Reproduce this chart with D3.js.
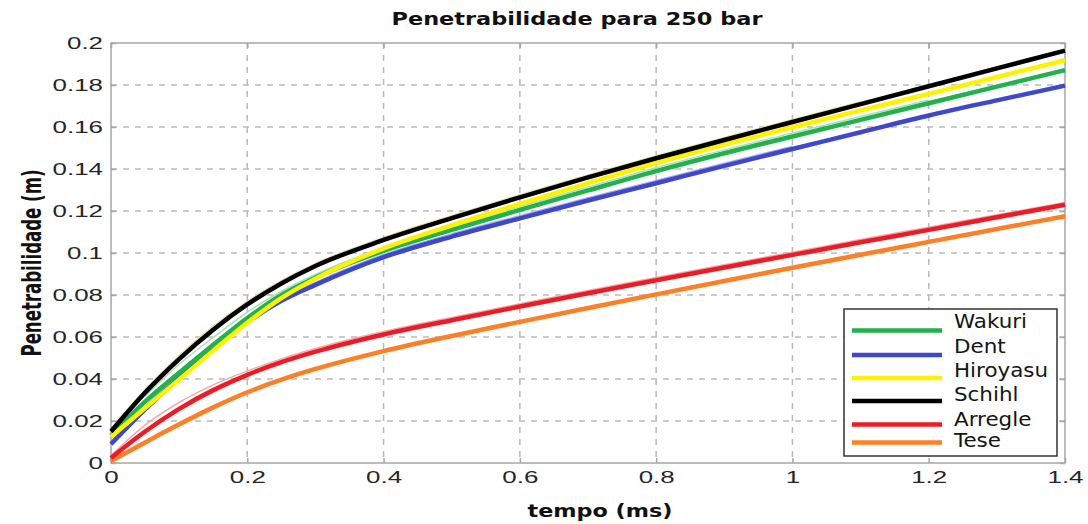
<!DOCTYPE html>
<html>
<head>
<meta charset="utf-8">
<script src="https://cdn.jsdelivr.net/npm/d3@7"></script>
<style>
  html, body { margin: 0; padding: 0; background: #fff; }
  svg { display: block; }
</style>
</head>
<body>
<svg id="chart" width="1088" height="524"></svg>
<script>
// Sampling instants (ms)
const tempo = [0, 0.05, 0.1, 0.15, 0.2, 0.25, 0.3, 0.4, 0.5, 0.6, 0.7, 0.8, 0.9, 1.0, 1.1, 1.2, 1.3, 1.4];

// Spray penetration (m) for each correlation
const wakuri   = [0.013, 0.0292, 0.0430, 0.0562, 0.0690, 0.0800, 0.0883, 0.1010, 0.1110, 0.1205, 0.1298, 0.1390, 0.1475, 0.1555, 0.1634, 0.1713, 0.1792, 0.1871];
const dent     = [0.009, 0.0255, 0.0405, 0.0545, 0.0670, 0.0772, 0.0848, 0.0980, 0.1078, 0.1165, 0.1250, 0.1332, 0.1415, 0.1495, 0.1575, 0.1655, 0.1727, 0.1797];
const hiroyasu = [0.0125, 0.0262, 0.0398, 0.0535, 0.0668, 0.0785, 0.0878, 0.1022, 0.1132, 0.1234, 0.1333, 0.1428, 0.1516, 0.1599, 0.1679, 0.1758, 0.1838, 0.1918];
const schihl   = [0.015, 0.0335, 0.0495, 0.0635, 0.0755, 0.0855, 0.0938, 0.1062, 0.1166, 0.1265, 0.1360, 0.1451, 0.1538, 0.1624, 0.1709, 0.1794, 0.1879, 0.1964];
const arregle  = [0.0024, 0.0150, 0.0258, 0.0347, 0.0420, 0.0480, 0.0530, 0.0612, 0.0680, 0.0745, 0.0808, 0.0870, 0.0931, 0.0991, 0.1051, 0.1110, 0.1170, 0.1230];
const tese     = [0.001, 0.0098, 0.0184, 0.0265, 0.0337, 0.0397, 0.0448, 0.0533, 0.0605, 0.0672, 0.0738, 0.0803, 0.0867, 0.0930, 0.0992, 0.1053, 0.1114, 0.1175];

// Thin companion traces that run alongside the model curves (null = not drawn)
const traceArregle  = [0.0035, 0.0180, 0.0288, 0.0372, 0.0438, 0.0496, 0.0545, 0.0626, 0.0693, 0.0758, 0.0821, 0.0883, 0.0944, 0.1004, 0.1064, 0.1123, 0.1182, 0.1240];
const traceWakuri   = [null, 0.0318, 0.0470, 0.0598, 0.0718, 0.0818, 0.0898, 0.1026, 0.1126, 0.1221, 0.1314, 0.1406, 0.1491, 0.1571, 0.1650, 0.1729, null, null];
const traceDent     = [null, 0.0270, 0.0430, 0.0572, 0.0690, 0.0785, 0.0860, 0.0993, 0.1091, 0.1178, 0.1263, 0.1345, 0.1428, 0.1508, null, null, null, null];
const traceHiroyasu = [null, 0.0350, 0.0512, 0.0652, 0.0770, 0.0868, 0.0950, 0.1074, 0.1178, 0.1277, 0.1372, 0.1463, 0.1550, 0.1636, 0.1720, null, null, null];

const seriesNames  = ["Wakuri", "Dent", "Hiroyasu", "Schihl", "Arregle", "Tese"];
const seriesValues = [wakuri, dent, hiroyasu, schihl, arregle, tese];
const seriesColors = ["#22b14c", "#3f48cc", "#fff200", "#000000", "#ed1c24", "#ff7f27"];
// painting order (first drawn ends up underneath)
const drawOrder = ["Dent", "Wakuri", "Hiroyasu", "Schihl", "Tese", "Arregle"];

const traceValues = [traceHiroyasu, traceWakuri, traceDent, traceArregle];
const traceColors = ["#e9e29a", "#a6e3b3", "#aab0f2", "#f6a8b0"];

const xTicks = [0, 0.2, 0.4, 0.6, 0.8, 1, 1.2, 1.4];
const yTicks = [0, 0.02, 0.04, 0.06, 0.08, 0.1, 0.12, 0.14, 0.16, 0.18, 0.2];

const titleText = "Penetrabilidade para 250 bar";
const xLabel = "tempo (ms)";
const yLabel = "Penetrabilidade (m)";

// ---- layout ----
const plot = { left: 111, right: 1065, top: 43, bottom: 463 };
const gridColor = "#b9b9b9";
const boxColor = "#a6a6a6";
const tickFont = "'Liberation Sans', Arial, sans-serif";
const labelFont = "'DejaVu Sans', Verdana, sans-serif";

const svg = d3.select("#chart");

const x = d3.scaleLinear().domain([0, 1.4]).range([plot.left, plot.right]);
const y = d3.scaleLinear().domain([0, 0.2]).range([plot.bottom, plot.top]);

// dashed grid
const grid = svg.append("g").attr("class", "grid");
grid.selectAll("line.gx")
  .data(xTicks.filter(d => d > 0 && d < 1.4))
  .join("line").attr("class", "gx")
  .attr("x1", d => x(d)).attr("x2", d => x(d))
  .attr("y1", plot.top).attr("y2", plot.bottom);
grid.selectAll("line.gy")
  .data(yTicks.filter(d => d > 0 && d < 0.2))
  .join("line").attr("class", "gy")
  .attr("x1", plot.left).attr("x2", plot.right)
  .attr("y1", d => y(d)).attr("y2", d => y(d));
grid.selectAll("line")
  .attr("stroke", gridColor)
  .attr("stroke-width", 1.5)
  .attr("stroke-dasharray", "6,6");

// axes (ticks pointing inward)
const axisLeft = d3.axisLeft(y).tickValues(yTicks).tickSize(-5).tickFormat(d3.format("~g"));
const axisBottom = d3.axisBottom(x).tickValues(xTicks).tickSize(-5).tickFormat(d3.format("~g"));
const axisRight = d3.axisRight(y).tickValues(yTicks).tickSize(-5).tickFormat("");
const axisTop = d3.axisTop(x).tickValues(xTicks).tickSize(-5).tickFormat("");

const gL = svg.append("g").attr("transform", `translate(${plot.left},0)`).call(axisLeft);
const gB = svg.append("g").attr("transform", `translate(0,${plot.bottom})`).call(axisBottom);
svg.append("g").attr("transform", `translate(${plot.right},0)`).call(axisRight);
svg.append("g").attr("transform", `translate(0,${plot.top})`).call(axisTop);

svg.selectAll(".domain").remove();
svg.selectAll(".tick line").attr("stroke", boxColor).attr("stroke-width", 1.5);

gL.selectAll(".tick text")
  .attr("x", 0).attr("dy", "0.36em")
  .attr("transform", "translate(-8,0) scale(1.62,1)")
  .attr("text-anchor", "end");
gB.selectAll(".tick text")
  .attr("y", 20).attr("dy", 0)
  .attr("transform", "scale(1.62,1)")
  .attr("text-anchor", "middle");
svg.selectAll(".tick text")
  .attr("font-family", tickFont)
  .attr("font-size", 16)
  .attr("fill", "#262626");

// plot box
svg.append("rect")
  .attr("x", plot.left).attr("y", plot.top)
  .attr("width", plot.right - plot.left).attr("height", plot.bottom - plot.top)
  .attr("fill", "none").attr("stroke", boxColor).attr("stroke-width", 1.5);

// curves
const line = d3.line()
  .defined(d => d != null)
  .x((d, i) => x(tempo[i]))
  .y(d => y(d))
  .curve(d3.curveMonotoneX);

const curves = svg.append("g").attr("class", "curves");

// faint companion traces, underneath the thick curves
traceValues.forEach((vals, i) => {
  curves.append("path")
    .datum(vals)
    .attr("d", line)
    .attr("fill", "none")
    .attr("stroke", traceColors[i])
    .attr("stroke-width", 1.5);
});

drawOrder.forEach(name => {
  const k = seriesNames.indexOf(name);
  curves.append("path")
    .datum(seriesValues[k])
    .attr("d", line)
    .attr("fill", "none")
    .attr("stroke", seriesColors[k])
    .attr("stroke-width", 4.5)
    .attr("stroke-linejoin", "round");
});

// legend
const legend = { x: 844, y: 309, w: 213, h: 147 };
const legendRows = [330.5, 355, 378, 401, 424.5, 442.5];
const legendBase = [328.5, 353.5, 377, 401, 426.5, 447];
const lg = svg.append("g").attr("class", "legend");
lg.append("rect")
  .attr("x", legend.x).attr("y", legend.y)
  .attr("width", legend.w).attr("height", legend.h)
  .attr("fill", "#fff").attr("stroke", "#333").attr("stroke-width", 1.5);
seriesNames.forEach((name, i) => {
  lg.append("line")
    .attr("x1", 852).attr("x2", 942)
    .attr("y1", legendRows[i]).attr("y2", legendRows[i])
    .attr("stroke", seriesColors[i]).attr("stroke-width", 4.5);
  const t = lg.append("text")
    .attr("x", 954).attr("y", legendBase[i])
    .attr("font-family", labelFont).attr("font-size", 18)
    .attr("fill", "#141414")
    .text(name);
  const w = t.node().getComputedTextLength();
  t.attr("textLength", w * 1.19).attr("lengthAdjust", "spacingAndGlyphs")
   .attr("transform", `translate(954,${legendBase[i]}) scale(1,1.08) translate(-954,${-legendBase[i]})`);
});

// title and axis labels
svg.append("text")
  .attr("x", 577).attr("y", 25)
  .attr("text-anchor", "middle")
  .attr("font-family", labelFont).attr("font-weight", "bold").attr("font-size", 17)
  .attr("textLength", 371).attr("lengthAdjust", "spacingAndGlyphs")
  .attr("fill", "#111")
  .text(titleText);

svg.append("text")
  .attr("x", 600).attr("y", 517)
  .attr("text-anchor", "middle")
  .attr("font-family", labelFont).attr("font-weight", "bold").attr("font-size", 18.5)
  .attr("textLength", 145).attr("lengthAdjust", "spacingAndGlyphs")
  .attr("fill", "#111")
  .text(xLabel);

svg.append("text")
  .attr("transform", "translate(41,263) scale(1.6,1) rotate(-90)")
  .attr("text-anchor", "middle")
  .attr("font-family", labelFont).attr("font-weight", "bold").attr("font-size", 16.6)
  .attr("fill", "#111")
  .text(yLabel);
</script>
</body>
</html>
